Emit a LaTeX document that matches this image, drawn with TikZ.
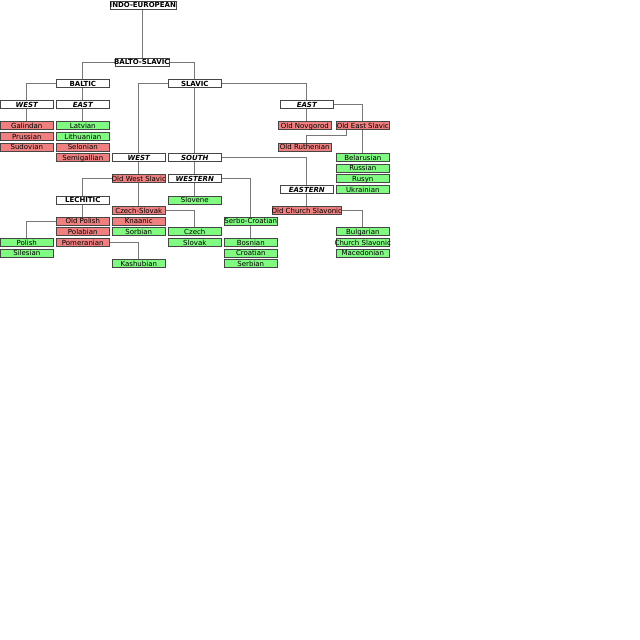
\documentclass[tikz,border=0pt]{standalone}
\usepackage{fontspec}
\setmainfont{DejaVu Sans}
\usetikzlibrary{backgrounds}
\definecolor{extinct}{RGB}{240,128,128}
\definecolor{living}{RGB}{128,250,128}
\definecolor{boxline}{RGB}{70,70,70}
\definecolor{edgeline}{RGB}{120,120,120}
\tikzset{
  box/.style={draw=boxline, line width=0.6pt, minimum width=53pt, minimum height=8pt,
    inner sep=0pt, anchor=north west, text height=6pt, text depth=0.4pt,
    font=\fontsize{7}{7}\selectfont},
  hdr/.style={box, fill=white, font=\fontsize{7}{7}\selectfont\bfseries},
  hdri/.style={box, fill=white, font=\fontsize{7}{7}\selectfont\bfseries\itshape},
  dead/.style={box, fill=extinct},
  alive/.style={box, fill=living},
  link/.style={draw=edgeline, line width=0.7pt}
}
\newcommand{\tx}[1]{\makebox[0pt]{#1}}
\begin{document}
\begin{tikzpicture}[x=1pt,y=-1pt]
\useasboundingbox (0,0) rectangle (640,640);
% rows r(k) = 79 + 10.6k
\node[hdr, minimum width=66pt] (ie) at (109.5,0.5) {\tx{INDO-EUROPEAN}};
\node[hdr, minimum width=54pt] (bs) at (114.5,57.8) {\tx{BALTO-SLAVIC}};
\node[hdr] (baltic) at (56,79) {\tx{BALTIC}};
\node[hdr] (slavic) at (168,79) {\tx{SLAVIC}};
\node[hdri] (bwest) at (0,100.2) {\tx{WEST}};
\node[hdri] (beast) at (56,100.2) {\tx{EAST}};
\node[hdri] (seast) at (280,100.2) {\tx{EAST}};
\node[dead] (galindan) at (0,121.4) {\tx{Galindan}};
\node[dead] (prussian) at (0,132) {\tx{Prussian}};
\node[dead] (sudovian) at (0,142.6) {\tx{Sudovian}};
\node[alive] (latvian) at (56,121.4) {\tx{Latvian}};
\node[alive] (lithuanian) at (56,132) {\tx{Lithuanian}};
\node[dead] (selonian) at (56,142.6) {\tx{Selonian}};
\node[dead] (semigallian) at (56,153.2) {\tx{Semigallian}};
\node[dead] (oldnov) at (278,121.4) {\tx{Old Novgorod}};
\node[dead] (oes) at (336,121.4) {\tx{Old East Slavic}};
\node[dead] (oru) at (278,142.6) {\tx{Old Ruthenian}};
\node[hdri] (swest) at (112,153.2) {\tx{WEST}};
\node[hdri] (south) at (168,153.2) {\tx{SOUTH}};
\node[alive] (belarusian) at (336,153.2) {\tx{Belarusian}};
\node[alive] (russian) at (336,163.8) {\tx{Russian}};
\node[alive] (rusyn) at (336,174.4) {\tx{Rusyn}};
\node[alive] (ukrainian) at (336,185) {\tx{Ukrainian}};
\node[dead] (ows) at (112,174.4) {\tx{Old West Slavic}};
\node[hdri] (western) at (168,174.4) {\tx{WESTERN}};
\node[hdri] (eastern) at (280,185) {\tx{EASTERN}};
\node[hdr] (lechitic) at (56,195.6) {\tx{LECHITIC}};
\node[alive] (slovene) at (168,195.6) {\tx{Slovene}};
\node[dead] (czsl) at (112,206.2) {\tx{Czech-Slovak}};
\node[dead, minimum width=69pt] (ocs) at (272,206.2) {\tx{Old Church Slavonic}};
\node[dead] (oldpolish) at (56,216.8) {\tx{Old Polish}};
\node[dead] (knaanic) at (112,216.8) {\tx{Knaanic}};
\node[alive] (serbocroatian) at (224,216.8) {\tx{Serbo-Croatian}};
\node[dead] (polabian) at (56,227.4) {\tx{Polabian}};
\node[alive] (sorbian) at (112,227.4) {\tx{Sorbian}};
\node[alive] (czech) at (168,227.4) {\tx{Czech}};
\node[alive] (bulgarian) at (336,227.4) {\tx{Bulgarian}};
\node[alive] (polish) at (0,238) {\tx{Polish}};
\node[dead] (pomeranian) at (56,238) {\tx{Pomeranian}};
\node[alive] (slovak) at (168,238) {\tx{Slovak}};
\node[alive] (bosnian) at (224,238) {\tx{Bosnian}};
\node[alive] (churchslavonic) at (336,238) {\tx{Church Slavonic}};
\node[alive] (silesian) at (0,248.6) {\tx{Silesian}};
\node[alive] (croatian) at (224,248.6) {\tx{Croatian}};
\node[alive] (macedonian) at (336,248.6) {\tx{Macedonian}};
\node[alive] (kashubian) at (112,259.2) {\tx{Kashubian}};
\node[alive] (serbian) at (224,259.2) {\tx{Serbian}};
\coordinate (bend) at (346.5,135.7);
\begin{pgfonlayer}{background}
\draw[link] (ie.south) -- (ie.south |- bs.north);
\draw[link] (bs.west) -| (baltic.north);
\draw[link] (bs.east) -| (slavic.north);
\draw[link] (baltic.west) -| (bwest.north);
\draw[link] (baltic.south) -- (beast.north);
\draw[link] (bwest.south) -- (galindan.north);
\draw[link] (beast.south) -- (latvian.north);
\draw[link] (slavic.west) -| (swest.north);
\draw[link] (slavic.south) -- (south.north);
\draw[link] (slavic.east) -| (seast.north);
\draw[link] (seast.south) -- (seast.south |- oldnov.north);
\draw[link] (seast.east) -| (belarusian.north);
\draw[link] (oes.south -| bend) -- (bend) -- (bend -| seast.south) -- (seast.south |- oru.north);
\draw[link] (swest.south) -- (ows.north);
\draw[link] (ows.west) -| (lechitic.north);
\draw[link] (ows.south) -- (czsl.north);
\draw[link] (lechitic.south) -- (oldpolish.north);
\draw[link] (oldpolish.west) -| (polish.north);
\draw[link] (pomeranian.east) -| (kashubian.north);
\draw[link] (czsl.east) -| (czech.north);
\draw[link] (south.south) -- (western.north);
\draw[link] (western.south) -- (slovene.north);
\draw[link] (western.east) -| (bosnian.north);
\draw[link] (south.east) -| (eastern.north);
\draw[link] (eastern.south) -- (eastern.south |- ocs.north);
\draw[link] (ocs.east) -| (bulgarian.north);
\end{pgfonlayer}
\end{tikzpicture}
\end{document}
